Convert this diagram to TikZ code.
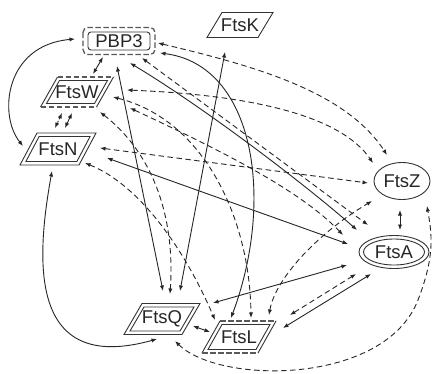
\documentclass[tikz,border=0pt]{standalone}
\usepackage{fontspec}
\setmainfont{Liberation Sans}
\usetikzlibrary{arrows.meta}
% parallelogram leaning right: #1 half edge, #2 half height, #3 half slant, #4 style
\newcommand\pgram[4]{\draw[#4] (-#1-#3,#2) -- (#1-#3,#2) -- (#1+#3,-#2) -- (-#1+#3,-#2) -- cycle;}
\newcommand\pgramsides[4]{\draw[#4] (-#1-#3,#2) -- (-#1+#3,-#2); \draw[#4] (#1-#3,#2) -- (#1+#3,-#2);}
\newcommand\pgramtb[4]{\draw[#4] (-#1-#3,#2) -- (#1-#3,#2); \draw[#4] (-#1+#3,-#2) -- (#1+#3,-#2);}
\tikzset{
  lab/.style={font=\fontsize{18.5}{20}\selectfont, inner sep=0pt, text=black!85},
  shp/.style={draw=black!80, line width=0.9pt},
  outd/.style={draw=black!65, line width=1.3pt, dash pattern=on 5.5pt off 2.5pt},
  ar/.style={draw=black!85, line width=0.9pt, arrows={Latex[length=5.5pt,width=4.2pt]-Latex[length=5.5pt,width=4.2pt]}},
  da/.style={ar, dash pattern=on 5.5pt off 3.5pt},
  dt/.style={ar, dash pattern=on 1.8pt off 1.8pt}
}
\begin{document}
\begin{tikzpicture}[x=1pt,y=-1pt]
\path[fill=white, use as bounding box] (0,0) rectangle (432,373);

% nodes (text)
\node[lab] (pbp3) at (119,41) {PBP3};
\node[lab] (ftsk) at (240,25) {FtsK};
\node[lab] (ftsw) at (77,92) {FtsW};
\node[lab] (ftsn) at (58,149) {FtsN};
\node[lab] (ftsq) at (162,319) {FtsQ};
\node[lab] (ftsl) at (239,337) {FtsL};
\node[lab] (ftsz) at (402,181) {FtsZ};
\node[lab] (ftsa) at (394,252) {FtsA};

% shapes
\begin{scope}[shift={(pbp3.center)}]
  \draw[shp, rounded corners=3pt] (-31,-9) rectangle (31,9);
  \draw[outd, rounded corners=5pt] (-36,-13.5) rectangle (36,13.5);
\end{scope}
\begin{scope}[shift={(ftsk.center)}]
  \pgram{25.5}{12.5}{7.5}{shp}
\end{scope}
\begin{scope}[shift={(ftsw.center)}]
  \pgram{24}{11.5}{6.5}{shp}
  \pgramsides{28}{15}{8.5}{shp}
  \pgramtb{28}{15}{8.5}{outd}
\end{scope}
\begin{scope}[shift={(ftsn.center)}]
  \pgram{25.5}{12.5}{6.6}{shp}
  \pgram{29.5}{16}{8.5}{shp}
\end{scope}
\begin{scope}[shift={(ftsq.center)}]
  \pgram{25}{12}{7}{shp}
  \pgram{29}{15.5}{9}{shp}
\end{scope}
\begin{scope}[shift={(ftsl.center)}]
  \pgram{24}{12.5}{7}{shp}
  \pgramsides{28}{16}{9}{shp}
  \pgramtb{28}{16}{9}{outd}
\end{scope}
\begin{scope}[shift={(ftsz.center)}]
  \draw[shp] (0,0) ellipse [x radius=28pt, y radius=18.5pt];
\end{scope}
\begin{scope}[shift={(ftsa.center)}]
  \draw[shp] (0,0) ellipse [x radius=30.5pt, y radius=13pt];
  \draw[shp] (0,0) ellipse [x radius=35pt, y radius=16.5pt];
\end{scope}

% connectors
\draw[ar] ([shift={(-44,-2)}]pbp3.center) .. controls (5,45) and (-2,115) .. ([shift={(-35,-3)}]ftsn.center);
\draw[ar] ([shift={(-16,16)}]pbp3.center) -- ([shift={(16,-18)}]ftsw.center);
\draw[dt] ([shift={(-15,21)}]ftsw.center) -- ([shift={(-3,-21)}]ftsn.center);
\draw[ar] ([shift={(-5,21)}]ftsw.center) -- ([shift={(7,-21)}]ftsn.center);
\draw[ar] ([shift={(-6,22)}]ftsn.center) .. controls (36,260) and (28,375) .. ([shift={(-5,20)}]ftsq.center);
\draw[da] ([shift={(42,-1)}]ftsn.center) -- ([shift={(-34,2)}]ftsz.center);
\draw[ar] ([shift={(49,9)}]ftsn.center) -- ([shift={(-46,-8)}]ftsa.center);
\draw[da] ([shift={(27,14)}]ftsn.center) .. controls (140,185) and (185,250) .. ([shift={(-24,-17)}]ftsl.center);
\draw[da] ([shift={(50,-2)}]ftsw.center) .. controls (250,95) and (340,115) .. ([shift={(-29,-18)}]ftsz.center);
\draw[da] ([shift={(39,2)}]pbp3.center) .. controls (250,65) and (345,90) .. ([shift={(-15,-26)}]ftsz.center);
\draw[ar] ([shift={(11,22)}]pbp3.center) .. controls (200,105) and (300,180) .. ([shift={(-37,-22)}]ftsa.center);
\draw[da] ([shift={(23,17)}]pbp3.center) -- ([shift={(-26,-27)}]ftsa.center);
\draw[ar] ([shift={(-2,25)}]pbp3.center) -- ([shift={(1,-28)}]ftsq.center);
\draw[ar] ([shift={(41,12)}]pbp3.center) .. controls (255,65) and (275,200) .. ([shift={(-8,-19)}]ftsl.center);
\draw[ar] ([shift={(-15,27)}]ftsk.center) -- ([shift={(18,-28)}]ftsq.center);
\draw[da] ([shift={(23,20)}]ftsw.center) .. controls (155,155) and (175,220) .. ([shift={(8,-25)}]ftsq.center);
\draw[da] ([shift={(36,5)}]ftsw.center) .. controls (205,120) and (250,220) .. ([shift={(12,-19)}]ftsl.center);
\draw[da] ([shift={(53,16)}]ftsw.center) .. controls (220,150) and (300,190) .. ([shift={(-51,-17)}]ftsa.center);
\draw[da] ([shift={(30,-22)}]ftsl.center) .. controls (275,280) and (315,235) .. ([shift={(-30,20)}]ftsz.center);
\draw[da] ([shift={(13,22)}]ftsq.center) .. controls (220,385) and (385,385) .. (418,300) .. controls (435,256) and (432,235) .. ([shift={(25,25)}]ftsz.center);
\draw[ar] ([shift={(51,-16)}]ftsq.center) -- ([shift={(-47,13)}]ftsa.center);
\draw[ar] ([shift={(31,7)}]ftsq.center) -- ([shift={(-29,-5)}]ftsl.center);
\draw[da] ([shift={(51,-22)}]ftsl.center) -- ([shift={(-38,22)}]ftsa.center);
\draw[ar] ([shift={(44,-9)}]ftsl.center) -- ([shift={(-23,22)}]ftsa.center);
\draw[ar] ([shift={(-2,29)}]ftsz.center) -- ([shift={(6,-22)}]ftsa.center);
\end{tikzpicture}
\end{document}
